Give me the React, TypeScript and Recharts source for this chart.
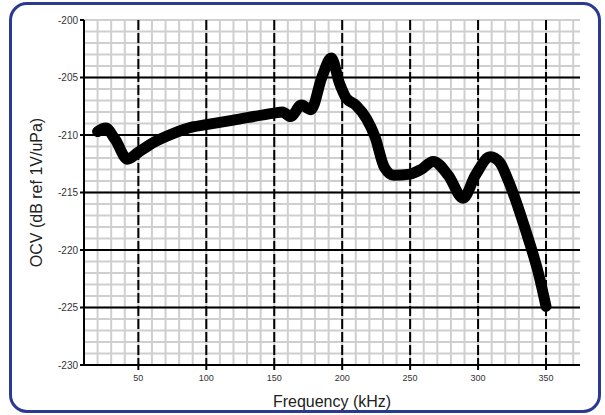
import { LineChart, Line, XAxis, YAxis, CartesianGrid, Label } from "recharts";

// frequency (kHz) and OCV (dB ref 1V/uPa)
const freqs = [
  20, 26, 33, 42, 50, 62, 75, 90, 100, 120, 150, 156, 162, 170, 177, 185, 192,
  198, 203, 210, 218, 224, 231, 238, 250, 258, 267, 278, 289, 298, 309, 316,
  322, 335, 345, 350,
];
const ocv = [
  -209.7, -209.4, -210.4, -212.1, -211.5, -210.6, -209.9, -209.3, -209.1,
  -208.7, -208.1, -208.0, -208.4, -207.4, -207.8, -205.0, -203.3, -205.5,
  -206.8, -207.4, -208.6, -210.1, -212.8, -213.5, -213.4, -213.0, -212.3,
  -213.5, -215.5, -213.5, -211.9, -212.4, -213.9, -218.3, -222.3, -224.9,
];

const xTicks = [50, 100, 150, 200, 250, 300, 350];
const yTicks = [-230, -225, -220, -215, -210, -205, -200];
const majorY = [-225, -220, -215, -210, -205];
const minorX = Array.from({ length: 36 }, (_, i) => 20 + i * 10);
const minorY = Array.from({ length: 31 }, (_, i) => -230 + i);

const data = freqs.map((f, i) => ({ f, v: ocv[i] }));

const toPx = (axis: any, vals: number[]): number[] => {
  const s = axis?.scale;
  if (!s) return [];
  if (typeof s === "function") return vals.map((v) => s(v));
  if (typeof s.map === "function") return vals.map((v) => s.map(v));
  return [];
};

export default function App() {
  return (
    <div style={{ position: "absolute", left: 0, top: 0, width: 605, height: 415, background: "#fff" }}>
      <div
        style={{
          position: "absolute",
          left: 9,
          top: 2,
          width: 592,
          height: 411,
          boxSizing: "border-box",
          border: "3px solid #2B3990",
          borderRadius: 18,
        }}
      />
      <div style={{ position: "absolute", left: 0, top: 0 }}>
        <LineChart
          width={605}
          height={415}
          data={data}
          margin={{ top: 20, right: 25, bottom: 0, left: 0 }}
          style={{ fontFamily: "'Liberation Sans', Arial, sans-serif" }}
        >
          <CartesianGrid
            stroke="#cfcfcf"
            strokeWidth={2}
            horizontalCoordinatesGenerator={(p: any) => toPx(p?.yAxis, minorY)}
            verticalCoordinatesGenerator={(p: any) => toPx(p?.xAxis, minorX)}
          />
          <CartesianGrid
            stroke="#000"
            strokeWidth={2}
            vertical={false}
            horizontalCoordinatesGenerator={(p: any) => toPx(p?.yAxis, majorY)}
          />
          <CartesianGrid
            stroke="#000"
            strokeWidth={2}
            strokeDasharray="10 3"
            horizontal={false}
            verticalCoordinatesGenerator={(p: any) => toPx(p?.xAxis, xTicks)}
          />
          <XAxis
            dataKey="f"
            type="number"
            domain={[10, 375]}
            ticks={xTicks}
            allowDataOverflow
            height={50}
            tickSize={5}
            tickMargin={5}
            axisLine={{ stroke: "#000", strokeWidth: 2 }}
            tickLine={{ stroke: "#000", strokeWidth: 2 }}
            tick={{ fontSize: 9, fill: "#333" }}
          >
            <Label
              value="Frequency (kHz)"
              position="insideBottom"
              offset={8}
              style={{ fontSize: 16, fill: "#222" }}
            />
          </XAxis>
          <YAxis
            yAxisId="lminor"
            orientation="left"
            type="number"
            domain={[-230, -200]}
            ticks={minorY}
            allowDataOverflow
            width={0}
            mirror
            tickSize={5}
            axisLine={false}
            tickLine={{ stroke: "#000", strokeWidth: 1.5 }}
            tickFormatter={() => ""}
          />
          <YAxis
            type="number"
            domain={[-230, -200]}
            ticks={yTicks}
            allowDataOverflow
            width={84}
            tickSize={4}
            axisLine={{ stroke: "#000", strokeWidth: 2 }}
            tickLine={{ stroke: "#000", strokeWidth: 2 }}
            tick={{ fontSize: 10, fill: "#333" }}
          >
            <Label
              value="OCV (dB ref 1V/uPa)"
              angle={-90}
              position="insideLeft"
              offset={36}
              style={{ fontSize: 16, fill: "#222", textAnchor: "middle" }}
            />
          </YAxis>
          <YAxis
            yAxisId="right"
            orientation="right"
            type="number"
            domain={[-230, -200]}
            ticks={minorY}
            allowDataOverflow
            width={0}
            mirror
            tickSize={4}
            axisLine={{ stroke: "#000", strokeWidth: 2 }}
            tickLine={{ stroke: "#000", strokeWidth: 1.5 }}
            tickFormatter={() => ""}
          />
          <Line
            dataKey="v"
            type="monotone"
            stroke="#000"
            strokeWidth={11}
            strokeLinecap="round"
            strokeLinejoin="round"
            dot={false}
            activeDot={false}
            isAnimationActive={false}
          />
        </LineChart>
      </div>
    </div>
  );
}
